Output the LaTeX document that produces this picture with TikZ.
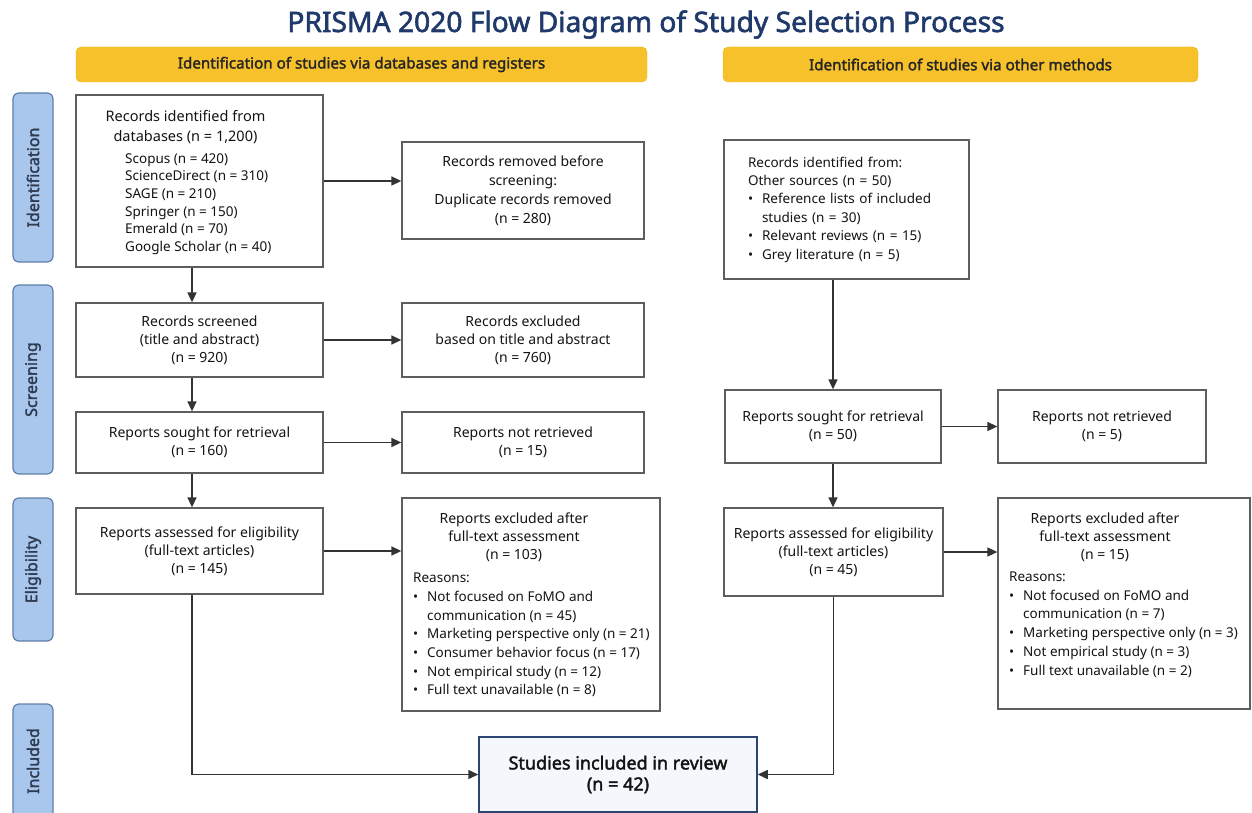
\documentclass[tikz,border=0pt]{standalone}
\usepackage{fontspec}
\setmainfont{Noto Sans}[BoldFont={Noto Sans}, BoldFeatures={FakeBold=2}]
\usetikzlibrary{arrows.meta}

\definecolor{titleblue}{HTML}{1E396A}
\definecolor{phaseyellow}{HTML}{F6C12A}
\definecolor{phaseline}{HTML}{E9B41E}
\definecolor{tabfill}{HTML}{A9C6EC}
\definecolor{tabline}{HTML}{5F7FA8}
\definecolor{tabtext}{HTML}{2E3B50}
\definecolor{boxline}{HTML}{5E5E5E}
\definecolor{textgray}{HTML}{141414}
\definecolor{arrowgray}{HTML}{333333}
\definecolor{finline}{HTML}{2D4470}
\definecolor{finfill}{HTML}{F4F8FD}

\newcommand\bl[1]{\makebox[14pt][l]{\textbullet}#1}
\newcommand\bc[1]{\hspace*{14pt}#1}

\begin{document}
\begin{tikzpicture}[x=1pt, y=-1pt,
		title/.style={font=\fontsize{28.2}{30}\selectfont\bfseries, text=titleblue, anchor=base},
		phase/.style={draw=phaseline, fill=phaseyellow, rounded corners=5pt, minimum height=35, inner sep=0pt, font=\fontsize{15.2}{17}\selectfont\bfseries, text=black!85},
		tab/.style={draw=tabline, fill=tabfill, rounded corners=6pt, line width=1.2pt, rotate=90, minimum height=40, inner sep=0pt, font=\fontsize{16}{18}\selectfont\bfseries, text=tabtext},
		box/.style={draw=boxline, line width=1.3pt, fill=white, inner sep=0pt, align=center, font=\fontsize{14}{18}\selectfont, text=textgray},
		txt/.style={inner sep=0pt, align=center, font=\fontsize{14}{18}\selectfont, text=textgray},
		lst/.style={inner sep=0pt, align=left, anchor=west, font=\fontsize{13.5}{18.7}\selectfont, text=textgray},
		finbox/.style={draw=finline, fill=finfill, line width=1.5pt, inner sep=0pt, align=center, font=\fontsize{18}{21}\selectfont\bfseries, text=textgray},
		flow/.style={draw=arrowgray, line width=1.5pt, -{Triangle[length=10pt,width=9pt]}}
	]
		\useasboundingbox (0,0) rectangle (1252,813);
		\clip (0,0) rectangle (1252,813);

		\node[title] (ttl) at (646,32) {PRISMA 2020 Flow Diagram of Study Selection Process};

		\node[phase, minimum width=571] (hdl) at (361.5,64.5) {Identification of studies via databases and registers};
		\node[phase, minimum width=475] (hdr) at (960.5,64.5) {Identification of studies via other methods};

		\node[tab, minimum width=169] (tid) at (33,177.5) {Identification};
		\node[tab, minimum width=189] (tsc) at (33,379.5) {Screening};
		\node[tab, minimum width=143] (tel) at (33,569.5) {Eligibility};
		\node[tab, minimum width=114] (tin) at (33,761) {Included};

		\node[box, minimum width=247, minimum height=172] (a1) at (199.5,181) {};
		\node[txt, font=\fontsize{14.5}{20}\selectfont] (a1h) at (185.5,127) {Records identified from\\databases (n = 1,200)};
		\node[lst, font=\fontsize{13.5}{17.6}\selectfont] (a1l) at (125,204) {Scopus (n = 420)\\ScienceDirect (n = 310)\\SAGE (n = 210)\\Springer (n = 150)\\Emerald (n = 70)\\Google Scholar (n = 40)};

		\node[box, minimum width=242, minimum height=97, font=\fontsize{14}{19}\selectfont] (a2) at (523,190.5) {Records removed before\\screening:\\Duplicate records removed\\(n = 280)};

		\node[box, minimum width=247, minimum height=74] (b1) at (199.5,340) {Records screened\\(title and abstract)\\(n = 920)};
		\node[box, minimum width=242, minimum height=74] (b2) at (523,340) {Records excluded\\based on title and abstract\\(n = 760)};

		\node[box, minimum width=247, minimum height=61] (c1) at (199.5,442.5) {Reports sought for retrieval\\(n = 160)};
		\node[box, minimum width=242, minimum height=61] (c2) at (523,442.5) {Reports not retrieved\\(n = 15)};

		\node[box, minimum width=247, minimum height=86] (d1) at (199.5,551) {Reports assessed for eligibility\\(full-text articles)\\(n = 145)};
		\node[box, minimum width=258, minimum height=213] (d2) at (531,604.5) {};
		\node[txt] (d2h) at (514,537) {Reports excluded after\\full-text assessment\\(n = 103)};
		\node[lst] (d2l) at (413,635) {Reasons:\\\bl{Not focused on FoMO and}\\\bc{communication (n = 45)}\\\bl{Marketing perspective only (n = 21)}\\\bl{Consumer behavior focus (n = 17)}\\\bl{Not empirical study (n = 12)}\\\bl{Full text unavailable (n = 8)}};

		\node[box, minimum width=245, minimum height=139, align=left, inner xsep=24, text width=197, font=\fontsize{13.5}{18.4}\selectfont] (e1) at (846.5,209.5) {Records identified from:\\Other sources (n = 50)\\\bl{Reference lists of included}\\\bc{studies (n = 30)}\\\bl{Relevant reviews (n = 15)}\\\bl{Grey literature (n = 5)}};

		\node[box, minimum width=216, minimum height=73] (f1) at (833,426.5) {Reports sought for retrieval\\(n = 50)};
		\node[box, minimum width=208, minimum height=73] (f2) at (1102,426.5) {Reports not retrieved\\(n = 5)};

		\node[box, minimum width=219, minimum height=88] (g1) at (833.5,552) {Reports assessed for eligibility\\(full-text articles)\\(n = 45)};
		\node[box, minimum width=252, minimum height=211] (g2) at (1124,603.5) {};
		\node[txt] (g2h) at (1105,537) {Reports excluded after\\full-text assessment\\(n = 15)};
		\node[lst] (g2l) at (1009,624.5) {Reasons:\\\bl{Not focused on FoMO and}\\\bc{communication (n = 7)}\\\bl{Marketing perspective only (n = 3)}\\\bl{Not empirical study (n = 3)}\\\bl{Full text unavailable (n = 2)}};

		\node[finbox, minimum width=278, minimum height=75] (fin) at (618,774.5) {Studies included in review\\(n = 42)};

		\coordinate (lcol) at (192,0);

		\draw[flow] (a1.south -| lcol) -- (b1.north -| lcol);
		\draw[flow] (b1.south -| lcol) -- (c1.north -| lcol);
		\draw[flow] (c1.south -| lcol) -- (d1.north -| lcol);
		\draw[flow] (d1.south -| lcol) |- (fin.west);
		\draw[flow] (a1.east) -- (a1.east -| a2.west);
		\draw[flow] (b1) -- (b2);
		\draw[flow] (c1) -- (c2);
		\draw[flow] (d1.east) -- (d1.east -| d2.west);

		\draw[flow] (e1.south -| f1.north) -- (f1.north);
		\draw[flow] (f1) -- (f2);
		\draw[flow] (f1.south) -- (f1.south |- g1.north);
		\draw[flow] (g1.east) -- (g1.east -| g2.west);
		\draw[flow] (g1.south) |- (fin.east);
	\end{tikzpicture}
\end{document}
